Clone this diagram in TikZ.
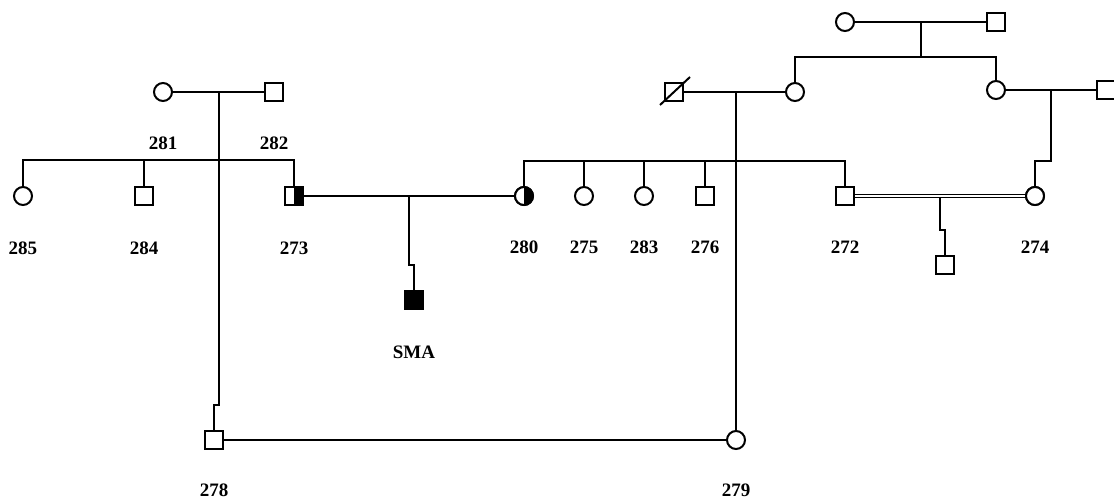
\documentclass[tikz,border=0pt]{standalone}
\usepackage{fontspec}
\setmainfont{Liberation Serif}
\begin{document}
\begin{tikzpicture}[x=1pt,y=-1pt,
  sym/.style={draw=black,line width=2pt,minimum size=18pt,inner sep=0pt,outer sep=0pt,fill=white},
  sq/.style={sym,rectangle},
  ci/.style={sym,circle},
  con/.style={line width=1.5pt},
  lab/.style={inner sep=0pt,font=\fontsize{19}{19}\selectfont\bfseries},
  halfright/.style={path picture={\fill[black] (path picture bounding box.north) rectangle (path picture bounding box.south east);}}
]
\useasboundingbox (0,0) rectangle (1114,501);

% --- generation I left
\node[ci] (c281) at (163,92) {};
\node[sq] (s282) at (274,92) {};
\coordinate (m1) at (219,92);
\coordinate (sb1) at (219,160);
\coordinate (k1) at (219,405);

\node[ci] (c285) at (23,196) {};
\node[sq] (s284) at (144,196) {};
\node[sq,halfright] (s273) at (294,196) {};

% --- deceased square and partner
\node[sq] (d1) at (674,92) {};
\node[ci] (c2) at (795,92) {};
\coordinate (m3) at (736,92);
\coordinate (sb2) at (736,161);

% --- top right grandparents
\node[ci] (ctop) at (845,22) {};
\node[sq] (stop) at (996,22) {};
\coordinate (m4) at (921,22);
\coordinate (sb3) at (921,57);
\node[ci] (c3) at (996,90) {};
\node[sq] (sr) at (1106,90) {};
\coordinate (m5) at (1051,90);
\coordinate (k5) at (1051,161);

% --- generation II
\node[ci,halfright] (c280) at (524,196) {};
\node[ci] (c275) at (584,196) {};
\node[ci] (c283) at (644,196) {};
\node[sq] (s276) at (705,196) {};
\node[sq] (s272) at (845,196) {};
\node[ci] (c274) at (1035,196) {};
\coordinate (m2) at (409,196);
\coordinate (k2) at (409,265);
\coordinate (m6) at (940,197);
\coordinate (k6) at (940,230);

% --- generation III
\node[sq,fill=black] (sma) at (414,300) {};
\node[sq] (sc) at (945,265) {};
\node[sq] (s278) at (214,440) {};
\node[ci] (c279) at (736,440) {};

% --- connectors
\draw[con] (c281.east) -- (s282.west);
\draw[con] (m1) -- (k1) -| (s278.north);
\draw[con] (c285.north) |- (sb1) -| (s273.north);
\draw[con] (s284.north) -- (s284.north |- sb1);

\draw[con] (s273.east) -- (c280.west);
\draw[con] (m2) -- (k2) -| (sma.north);

\draw[con] (d1.east) -- (c2.west);
\draw[con] (m3) -- (c279.north);
\draw[con] (c280.north) |- (sb2) -| (s272.north);
\draw[con] (c275.north) -- (c275.north |- sb2);
\draw[con] (c283.north) -- (c283.north |- sb2);
\draw[con] (s276.north) -- (s276.north |- sb2);

\draw[con] (ctop.east) -- (stop.west);
\draw[con] (m4) -- (sb3);
\draw[con] (c2.north) |- (sb3) -| (c3.north);
\draw[con] (c3.east) -- (sr.west);
\draw[con] (m5) -- (k5) -| (c274.north);

\draw[line width=1pt,double=white,double distance=2.2pt] (s272.east) -- (c274.west);
\draw[con] (m6) -- (k6) -| (sc.north);

\draw[con] (s278.east) -- (c279.west);

% redraw symbols on top of connectors
\node[sq,halfright] at (s273) {};
\node[ci,halfright] at (c280) {};
\node[sq] at (s272) {};
\node[ci] at (c274) {};

% deceased slash
\coordinate (dl) at (660,105);
\coordinate (du) at (690,77);
\draw[line width=2pt] (dl) -- (du);

% --- labels
\node[lab] (l281) at (163,143) {281};
\node[lab] (l282) at (274,143) {282};
\node[lab] (l285) at (23,248) {285};
\node[lab] (l284) at (144,248) {284};
\node[lab] (l273) at (294,248) {273};
\node[lab] (l280) at (524,247) {280};
\node[lab] (l275) at (584,247) {275};
\node[lab] (l283) at (644,247) {283};
\node[lab] (l276) at (705,247) {276};
\node[lab] (l272) at (845,247) {272};
\node[lab] (l274) at (1035,247) {274};
\node[lab] (lsma) at (414,352) {SMA};
\node[lab] (l278) at (214,490) {278};
\node[lab] (l279) at (736,490) {279};
\end{tikzpicture}
\end{document}
